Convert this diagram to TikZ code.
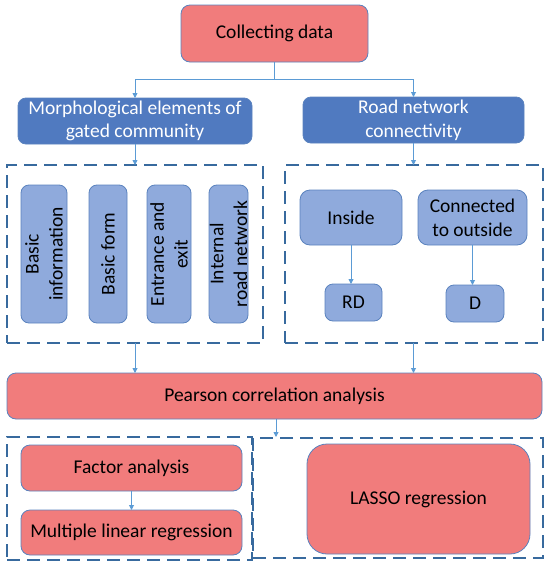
\documentclass[tikz,border=0pt]{standalone}
\usepackage{fontspec}
\setmainfont{Carlito}
\usetikzlibrary{arrows.meta}
\definecolor{redfill}{RGB}{241,124,124}
\definecolor{bluefill}{RGB}{80,122,192}
\definecolor{lightfill}{RGB}{143,170,220}
\definecolor{edgeblue}{RGB}{90,130,190}
\definecolor{dashcol}{RGB}{56,106,158}
\definecolor{arrowcol}{RGB}{91,155,213}
\begin{document}
\begin{tikzpicture}[x=1pt,y=-1pt,
  every node/.style={inner sep=0pt,outer sep=0pt,font=\fontsize{19.5}{23.8}\selectfont,align=center},
  redbox/.style={draw=edgeblue,line width=0.8pt,fill=redfill,rounded corners=9pt,text=black},
  darkbox/.style={draw=edgeblue,line width=0.8pt,fill=bluefill,rounded corners=8pt,text=white},
  lightbox/.style={draw=edgeblue,line width=0.8pt,fill=lightfill,rounded corners=8pt,text=black},
  dashbox/.style={draw=dashcol,line width=2.2pt,dash pattern=on 13pt off 7pt},
  conn/.style={draw=arrowcol,line width=0.9pt},
  arr/.style={conn,-{Triangle[length=5pt,width=5pt]}}
]
\useasboundingbox (0,0) rectangle (550,568);

% top
\node[redbox,minimum width=187pt,minimum height=57pt] (collect) at (274.5,33.5) {Collecting data};
\node[darkbox,minimum width=234pt,minimum height=46pt] (morph) at (135,121) {Morphological elements of\\gated community};
\node[darkbox,minimum width=221pt,minimum height=46pt] (road) at (413.5,120) {Road network\\connectivity};
\coordinate (split) at (274.5,79.5);
\draw[conn] (collect.south) -- (split);
\draw[arr] (split) -| (morph.north);
\draw[arr] (split) -| (road.north);

% dashed groups
\node[dashbox,minimum width=256pt,minimum height=178pt] (dl) at (135,254) {};
\node[dashbox,minimum width=258pt,minimum height=178pt] (dr) at (414,254) {};
\draw[arr] (morph.south) -- (dl.north);
\draw[arr] (road.south) -- (road.south |- dr.north);

% left group
\node[lightbox,minimum width=46pt,minimum height=138pt] (bi) at (44,254) {};
\node[rotate=90] at (bi.center) {Basic\\information};
\node[lightbox,minimum width=38pt,minimum height=138pt] (bf) at (108,254) {};
\node[rotate=90] at (bf.center) {Basic form};
\node[lightbox,minimum width=44pt,minimum height=138pt] (ee) at (169,254) {};
\node[rotate=90] at (ee.center) {Entrance and\\exit};
\node[lightbox,minimum width=39pt,minimum height=138pt] (irn) at (228.5,254) {};
\node[rotate=90] at (irn.center) {Internal\\road network};

% right group
\node[lightbox,minimum width=102pt,minimum height=55pt,rounded corners=10pt] (inside) at (351,217.5) {Inside};
\node[lightbox,minimum width=109pt,minimum height=55pt,rounded corners=10pt] (outside) at (472.5,217.5) {Connected\\to outside};
\node[lightbox,minimum width=57pt,minimum height=37pt] (rd) at (353.5,302.5) {RD};
\node[lightbox,minimum width=58pt,minimum height=37pt] (d) at (475,303.5) {D};
\draw[arr] (inside.south) -- (inside.south |- rd.north);
\draw[arr] (outside.south) -- (outside.south |- d.north);

% Pearson
\node[redbox,minimum width=535pt,minimum height=46pt] (pearson) at (274.5,396) {Pearson correlation analysis};
\draw[arr] (dl.south) -- (dl.south |- pearson.north);
\draw[arr] (road.south |- dr.south) -- (road.south |- pearson.north);

% bottom groups
\node[dashbox,minimum width=245pt,minimum height=123pt] (bl) at (129.5,498.5) {};
\node[dashbox,minimum width=290pt,minimum height=120pt] (br) at (398,498) {};
\coordinate (ptop) at (276,437);
\draw[arr] (pearson.south -| ptop) -- (ptop);

\node[redbox,minimum width=221pt,minimum height=46pt] (factor) at (131.5,468) {Factor analysis};
\node[redbox,minimum width=221pt,minimum height=45pt] (mlr) at (131.5,532.5) {Multiple linear regression};
\draw[arr] (factor.south) -- (mlr.north);
\node[redbox,minimum width=223pt,minimum height=110pt,rounded corners=20pt] (lasso) at (418.5,499) {LASSO regression};
\end{tikzpicture}
\end{document}
